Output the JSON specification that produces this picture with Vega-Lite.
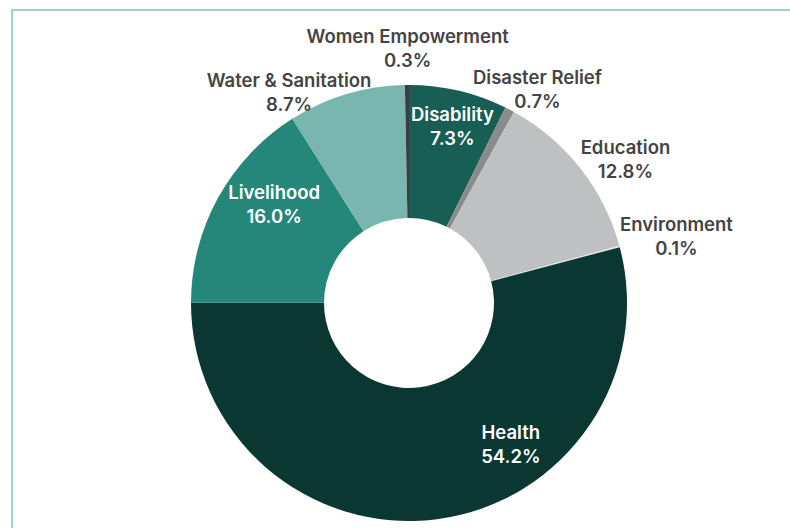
{
  "$schema": "https://vega.github.io/schema/vega-lite/v6.json",
  "width": 794,
  "height": 586,
  "padding": {"left": 12, "top": 10, "right": 0, "bottom": 0},
  "autosize": {"type": "none"},
  "background": "#ffffff",
  "view": {"stroke": "#7fc4bd", "strokeWidth": 1.5, "fill": null},
  "config": {
    "text": {"font": "Inter", "fontSize": 18.5, "fontWeight": 600, "lineHeight": 24, "baseline": "middle", "align": "center"}
  },
  "data": {
    "values": [
      {"category": "Disability", "share": 0.073},
      {"category": "Disaster Relief", "share": 0.007},
      {"category": "Education", "share": 0.128},
      {"category": "Environment", "share": 0.001},
      {"category": "Health", "share": 0.542},
      {"category": "Livelihood", "share": 0.160},
      {"category": "Water & Sanitation", "share": 0.087},
      {"category": "Women Empowerment", "share": 0.003}
    ]
  },
  "layer": [
    {
      "mark": {"type": "arc", "innerRadius": 85, "outerRadius": 218},
      "encoding": {
        "theta": {"field": "share", "type": "quantitative", "stack": true},
        "color": {
          "field": "category",
          "type": "nominal",
          "sort": "ascending",
          "scale": {
            "domain": ["Disability", "Disaster Relief", "Education", "Environment", "Health", "Livelihood", "Water & Sanitation", "Women Empowerment"],
            "range": ["#185e54", "#8a8b8d", "#bfc0c2", "#e4e5e6", "#0a3732", "#24877a", "#7ab6b0", "#3c3c3e"]
          },
          "legend": null
        }
      }
    },
    {
      "mark": {
        "type": "text",
        "radius": 178,
        "fill": "#ffffff",
        "text": {"expr": "indexof(['Disability','Livelihood','Health'], datum.category) >= 0 ? [datum.category, format(datum.share, '.1%')] : ''"},
        "dx": {"expr": "datum.category == 'Disability' ? 3 : datum.category == 'Livelihood' ? 21 : datum.category == 'Health' ? 79 : 0"},
        "dy": {"expr": "-10 + (datum.category == 'Disability' ? -5 : datum.category == 'Livelihood' ? -14 : datum.category == 'Health' ? -37 : 0)"}
      },
      "encoding": {
        "theta": {"field": "share", "type": "quantitative", "stack": true},
        "detail": {"field": "category", "type": "nominal"}
      }
    },
    {
      "mark": {
        "type": "text",
        "radius": 250,
        "fill": "#444444",
        "text": {"expr": "indexof(['Disability','Livelihood','Health'], datum.category) < 0 ? [datum.category, format(datum.share, '.1%')] : ''"},
        "dx": {"expr": "datum.category == 'Disaster Relief' ? 13 : datum.category == 'Education' ? 20 : datum.category == 'Environment' ? 26 : datum.category == 'Women Empowerment' ? 1 : datum.category == 'Water & Sanitation' ? -48 : 0"},
        "dy": {"expr": "-10 + (datum.category == 'Disaster Relief' ? 7 : datum.category == 'Education' ? 10 : datum.category == 'Environment' ? -3 : datum.category == 'Women Empowerment' ? -6 : datum.category == 'Water & Sanitation' ? 27 : 0)"}
      },
      "encoding": {
        "theta": {"field": "share", "type": "quantitative", "stack": true},
        "detail": {"field": "category", "type": "nominal"}
      }
    }
  ]
}
